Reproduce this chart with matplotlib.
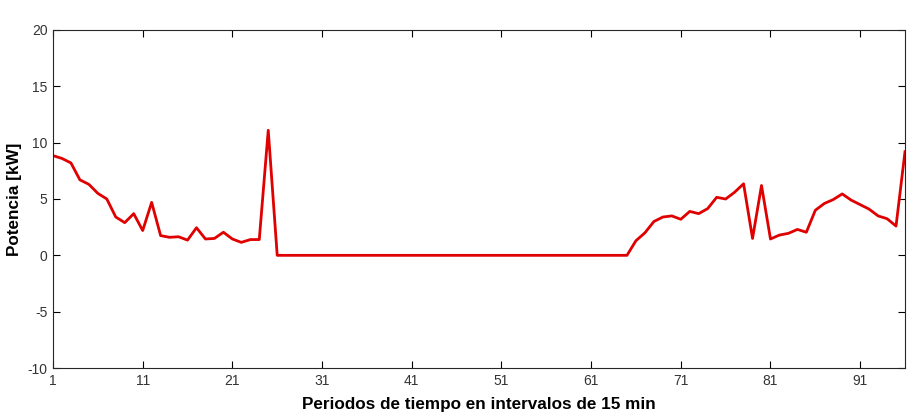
import numpy as np
import matplotlib
matplotlib.use("Agg")
from matplotlib import pyplot as plt

plt.rcParams['font.family'] = ['Liberation Sans', 'DejaVu Sans']
plt.rcParams['axes.unicode_minus'] = False

# periodos de 15 min (1..96) y potencia
periodos = np.arange(1, 97)
inicio = [8.85, 8.6, 8.2, 6.7, 6.3, 5.5, 5.0, 3.4, 2.9, 3.7,
          2.2, 4.7, 1.75, 1.6, 1.65, 1.35, 2.45, 1.45, 1.5, 2.05,
          1.45, 1.15, 1.4, 1.4, 11.1]
ceros = [0.0] * 40
final = [1.3, 2.0, 3.0, 3.4, 3.5, 3.2, 3.9, 3.7, 4.15, 5.15,
         5.0, 5.6, 6.35, 1.5, 6.2, 1.45, 1.8, 1.95, 2.3, 2.05,
         4.0, 4.6, 4.95, 5.45, 4.9, 4.5, 4.1, 3.5, 3.25, 2.6,
         9.2]
potencia = inicio + ceros + final

xticks = [1, 11, 21, 31, 41, 51, 61, 71, 81, 91]
yticks = [-10, -5, 0, 5, 10, 15, 20]

fig = plt.figure(figsize=(9.15, 4.15), dpi=100)
ax = fig.add_axes([53/915, 1 - 368/415, (905-53)/915, (368-30)/415])

ax.plot(periodos, potencia, color='#e00000', linewidth=2)

ax.set_xlim(1, 96)
ax.set_ylim(-10, 20)
ax.set_xticks(xticks)
ax.set_yticks(yticks)
ax.tick_params(direction='in', top=True, right=True, length=5, width=0.8,
               labelsize=10, labelcolor='#333333', pad=4)
for s in ax.spines.values():
    s.set_linewidth(0.8)
    s.set_color('#262626')

ax.set_xlabel('Periodos de tiempo en intervalos de 15 min', fontsize=12.3,
              fontweight='bold', labelpad=7)
ax.set_ylabel('Potencia [kW]', fontsize=12.3, fontweight='bold', labelpad=4)

fig.savefig('out.png', dpi=100)
